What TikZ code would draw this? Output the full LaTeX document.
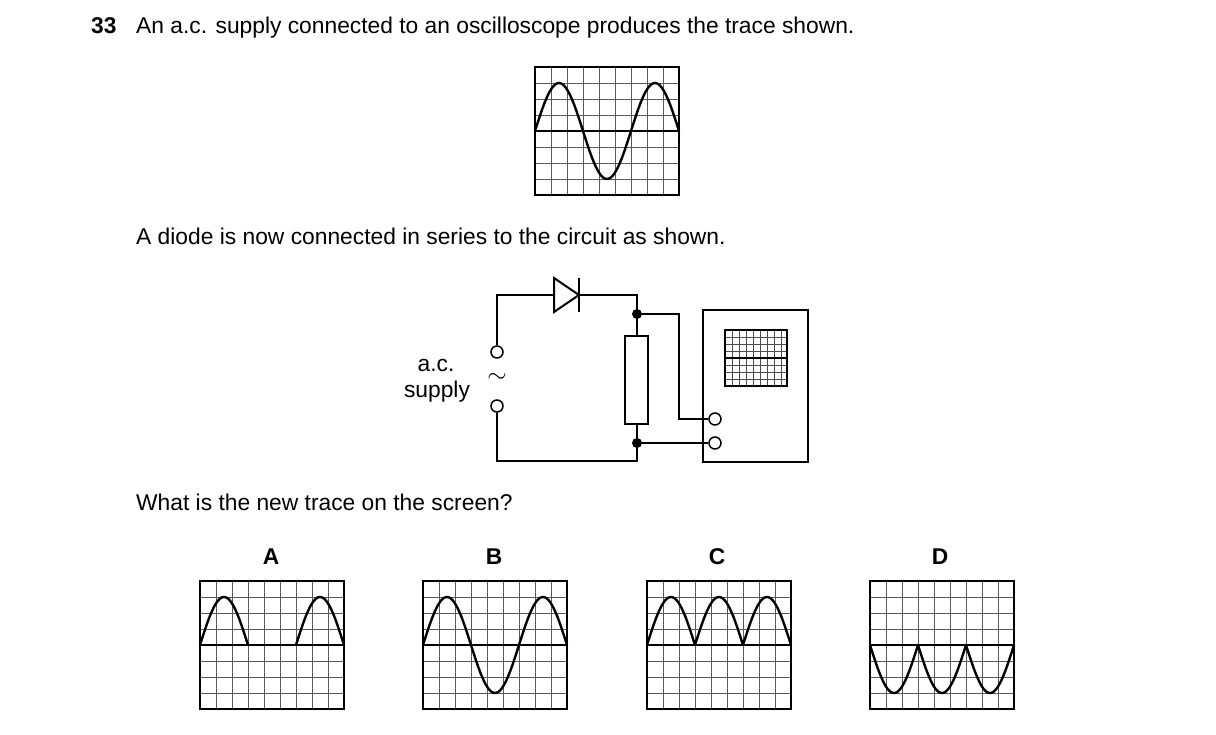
\documentclass[tikz,border=0pt]{standalone}
\usepackage{fontspec}
\setmainfont{Liberation Sans}
\begin{document}
\begin{tikzpicture}[x=1pt,y=-1pt,
  frame/.style={line width=2.2pt},
  gridl/.style={line width=0.8pt,black!65},
  trace/.style={line width=2.4pt},
  wire/.style={line width=2pt},
  txt/.style={font=\fontsize{22.8}{26}\selectfont,inner sep=0pt},
  btxt/.style={font=\fontsize{22.8}{26}\selectfont\bfseries,inner sep=0pt},
  term/.style={circle,draw,line width=1.5pt,fill=white,minimum size=12pt,inner sep=0pt},
  dot/.style={circle,fill=black,minimum size=10pt,inner sep=0pt}]
\useasboundingbox (0,0) rectangle (1216,735);
\newcommand\scr[2]{%
  \begin{scope}[shift={(#1,#2)}]
  \foreach \i in {1,...,8} \draw[gridl] (16*\i,0) -- (16*\i,128);
  \foreach \j in {1,...,7} \draw[gridl] (0,16*\j) -- (144,16*\j);
  \draw[line width=1.6pt] (0,64) -- (144,64);
  \draw[frame] (0,0) rectangle (144,128);
  \end{scope}}
% header
\node[btxt,anchor=base west] (num) at (91,34) {33};
\node[txt,anchor=base west] (t1) at (136,34) {An a.c. supply connected to an oscilloscope produces the trace shown.};
\scr{535}{67}
\draw[trace] plot[domain=0:144,samples=100,smooth] ({535+\x},{131-48*sin(\x*3.75)});
\node[txt,anchor=base west] (t2) at (136,245) {A diode is now connected in series to the circuit as shown.};
% circuit
\node[term] (s1) at (497,352) {};
\node[term] (s2) at (497,406) {};
\node[font=\fontsize{26}{26}\selectfont,inner sep=0pt] (tl) at (497,378) {$\sim$};
\node[txt] (ac) at (436,365) {a.c.};
\node[txt] (sup) at (437,392) {supply};
\draw[wire] (s1) -- (497,295) -- (554,295);
\draw[wire] (579,295) -- (637,295) -- (637,336);
\draw[wire,fill=white] (554,278) -- (579,295) -- (554,312) -- cycle;
\draw[wire] (579,278) -- (579,312);
\draw[wire] (637,424) -- (637,461) -- (497,461) -- (s2);
\draw[wire] (625,336) rectangle (648,424);
\draw[wire] (703,310) rectangle (808,462);
\node[term] (o1) at (715,419) {};
\node[term] (o2) at (715,443) {};
\node[dot] (d1) at (637,314) {};
\node[dot] (d2) at (637,443) {};
\draw[wire] (d1) -- (679,314) -- (679,419) -- (o1);
\draw[wire] (d2) -- (o2);
\begin{scope}[shift={(725,330)}]
\foreach \i in {1,...,8} \draw[line width=0.6pt,black!70] (7*\i,0) -- (7*\i,56);
\foreach \j in {1,...,7} \draw[line width=0.6pt,black!70] (0,7*\j) -- (62,7*\j);
\draw[line width=1.2pt] (0,28) -- (62,28);
\draw[line width=2pt] (0,0) rectangle (62,56);
\end{scope}
\node[txt,anchor=base west] (t3) at (136,510) {What is the new trace on the screen?};
% options
\node[btxt] (la) at (271,557) {A};
\node[btxt] (lb) at (494,557) {B};
\node[btxt] (lc) at (717,557) {C};
\node[btxt] (ld) at (940,557) {D};
\scr{200}{581}\scr{423}{581}\scr{647}{581}\scr{870}{581}
\draw[trace] plot[domain=0:48,samples=40,smooth] ({200+\x},{645-48*sin(\x*3.75)});
\draw[trace] (248,645) -- (296,645);
\draw[trace] plot[domain=96:144,samples=40,smooth] ({200+\x},{645-48*sin(\x*3.75)});
\draw[trace] plot[domain=0:144,samples=100,smooth] ({423+\x},{645-48*sin(\x*3.75)});
\foreach \k in {0,48,96} {
  \draw[trace] plot[domain=0:48,samples=40,smooth] ({647+\k+\x},{645-48*sin(\x*3.75)});
  \draw[trace] plot[domain=0:48,samples=40,smooth] ({870+\k+\x},{645+48*sin(\x*3.75)});
}
\end{tikzpicture}
\end{document}
